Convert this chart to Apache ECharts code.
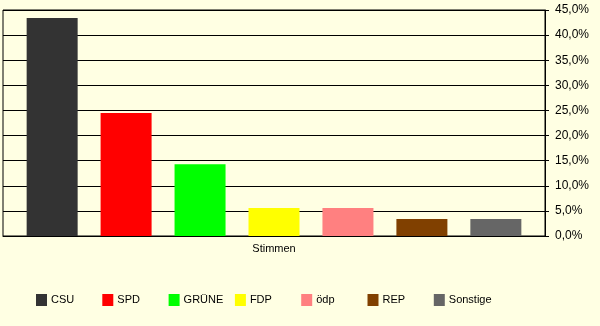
<!DOCTYPE html>
<html><head><meta charset="utf-8">
<script src="https://cdn.jsdelivr.net/npm/echarts@6/dist/echarts.min.js"></script>
<style>html,body{margin:0;padding:0;background:#FFFFE3;}#c{width:600px;height:326px;}</style>
</head><body><div id="c"></div>
<script>
const categories = ['Stimmen'];
const parties = ['CSU','SPD','GRÜNE','FDP','ödp','REP','Sonstige'];
const values = [43.4, 24.5, 14.3, 5.6, 5.6, 3.4, 3.4];
const colors = ['#333333','#FF0000','#00FF00','#FFFF00','#FF8080','#804000','#666666'];
const yTicks = {min:0, max:45, interval:5};

const font = 'Liberation Sans, Arial, sans-serif';
const chart = echarts.init(document.getElementById('c'), null, {renderer:'canvas'});
chart.setOption({
  backgroundColor:'#FFFFE3',
  animation:false,
  grid:{left:3, right:55, top:10, bottom:90, show:true, borderColor:'#000', borderWidth:1},
  legend: parties.map((p,i)=>({
    data:[p], left:31 + i*66.3, top:289, itemWidth:11, itemHeight:12,
    icon:'rect', selectedMode:false,
    textStyle:{fontFamily:font, fontSize:11, color:'#000', padding:[0,0,0,-1]}
  })),
  xAxis:{type:'category', data:categories,
    axisLine:{lineStyle:{color:'#000'}},
    axisTick:{length:11, lineStyle:{color:'#000'}},
    axisLabel:{margin:7, color:'#000', fontFamily:font, fontSize:11},
    splitLine:{show:false}
  },
  yAxis:{type:'value', position:'right', min:yTicks.min, max:yTicks.max, interval:yTicks.interval,
    axisLine:{show:true, lineStyle:{color:'#000'}},
    axisTick:{show:true, length:4, lineStyle:{color:'#000'}},
    axisLabel:{margin:10, color:'#000', fontFamily:font, fontSize:12,
      formatter:v=>v.toFixed(1).replace('.',',')+'%'},
    splitLine:{lineStyle:{color:'#000'}}
  },
  series: parties.map((p,i)=>({
    name:p, type:'bar', data:[values[i]], barWidth:51, barGap:'45%',
    itemStyle:{color:colors[i]}
  }))
});
</script></body></html>
